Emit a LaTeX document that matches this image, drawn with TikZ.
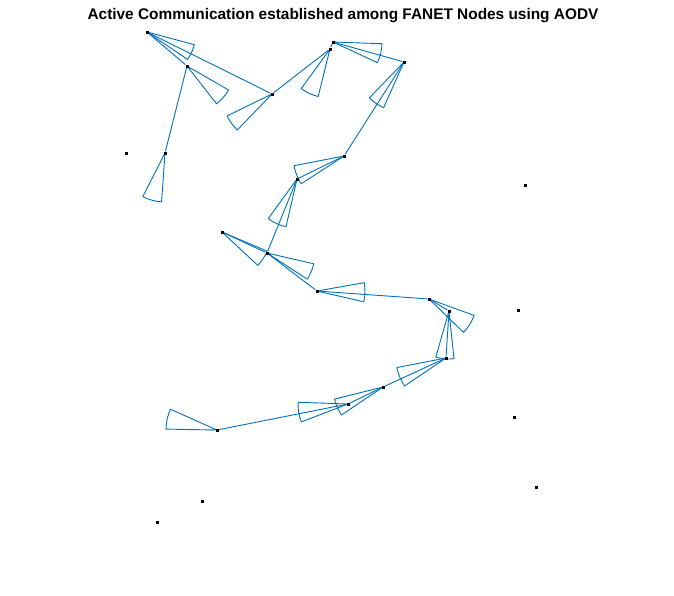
\documentclass[tikz,border=0pt]{standalone}
\usepackage{fontspec}
\setmainfont{Liberation Sans}
\usepackage{tikz}
\usetikzlibrary{backgrounds}
\usepackage{xcolor}
\definecolor{linkblue}{RGB}{0,114,189}

\begin{document}
\begin{tikzpicture}[
    x=1pt, y=-1pt,
    uav/.style={fill=black, inner sep=0pt, minimum size=3pt, rectangle},
    link/.style={draw=linkblue, line width=0.9pt},
    beam/.style={draw=linkblue, line width=0.9pt, line join=round},
    heading/.style={font=\fontsize{15.4}{17}\selectfont\bfseries}
  ]
    \useasboundingbox (0,0) rectangle (674,595);
    \node[heading] (title) at (343,16) {Active Communication established among FANET Nodes using AODV};

    % nodes on the route
    \node[uav] (u1) at (147,32) {};
    \node[uav] (u2) at (187,66) {};
    \node[uav] (u3) at (272,94) {};
    \node[uav] (u4) at (330,49) {};
    \node[uav] (u5) at (333,42) {};
    \node[uav] (u6) at (404,62) {};
    \node[uav] (u7) at (344,156) {};
    \node[uav] (u8) at (297,179) {};
    \node[uav] (u9) at (222,232) {};
    \node[uav] (u10) at (267,253) {};
    \node[uav] (u11) at (317,291) {};
    \node[uav] (u12) at (429,299) {};
    \node[uav] (u13) at (449,311) {};
    \node[uav] (u14) at (446,358) {};
    \node[uav] (u15) at (383,387) {};
    \node[uav] (u16) at (348,404) {};
    \node[uav] (u17) at (217,430) {};
    \node[uav] (u18) at (165,153) {};

    % idle nodes
    \node[uav] (i1) at (126,153) {};
    \node[uav] (i2) at (525,185) {};
    \node[uav] (i3) at (518,310) {};
    \node[uav] (i4) at (514,417) {};
    \node[uav] (i5) at (536,487) {};
    \node[uav] (i6) at (202,501) {};
    \node[uav] (i7) at (157,522) {};

    \begin{scope}[on background layer]
    % links
    \draw[link] (u1) -- (u3);
    \draw[link] (u1) -- (u2);
    \draw[link] (u2) -- (u18);
    \draw[link] (u3) -- (u4);
    \draw[link] (u4) -- (u5);
    \draw[link] (u5) -- (u6);
    \draw[link] (u6) -- (u7);
    \draw[link] (u7) -- (u8);
    \draw[link] (u8) -- (u10);
    \draw[link] (u9) -- (u10);
    \draw[link] (u10) -- (u11);
    \draw[link] (u11) -- (u12);
    \draw[link] (u12) -- (u13);
    \draw[link] (u13) -- (u14);
    \draw[link] (u14) -- (u15);
    \draw[link] (u15) -- (u16);
    \draw[link] (u16) -- (u17);

    % antenna beams
    \draw[beam] (u1.center) -- ++(15:49) arc[start angle=15, end angle=34, radius=49] -- cycle;
    \draw[beam] (u2.center) -- ++(30:48) arc[start angle=30, end angle=52, radius=48] -- cycle;
    \draw[beam] (u3.center) -- ++(134:50) arc[start angle=134, end angle=154, radius=50] -- cycle;
    \draw[beam] (u4.center) -- ++(104:49) arc[start angle=104, end angle=126, radius=49] -- cycle;
    \draw[beam] (u5.center) -- ++(2:49) arc[start angle=2, end angle=25, radius=49] -- cycle;
    \draw[beam] (u6.center) -- ++(114:50) arc[start angle=114, end angle=134, radius=50] -- cycle;
    \draw[beam] (u7.center) -- ++(147:51) arc[start angle=147, end angle=169, radius=51] -- cycle;
    \draw[beam] (u8.center) -- ++(103:49) arc[start angle=103, end angle=126, radius=49] -- cycle;
    \draw[beam] (u9.center) -- ++(23:49) arc[start angle=23, end angle=43, radius=49] -- cycle;
    \draw[beam] (u10.center) -- ++(13:48) arc[start angle=13, end angle=33, radius=48] -- cycle;
    \draw[beam] (u11.center) -- ++(-10:48) arc[start angle=-10, end angle=13, radius=48] -- cycle;
    \draw[beam] (u12.center) -- ++(20:48) arc[start angle=20, end angle=44, radius=48] -- cycle;
    \draw[beam] (u13.center) -- ++(84:48) arc[start angle=84, end angle=106, radius=48] -- cycle;
    \draw[beam] (u14.center) -- ++(146:50) arc[start angle=146, end angle=169, radius=50] -- cycle;
    \draw[beam] (u15.center) -- ++(146:50) arc[start angle=146, end angle=166, radius=50] -- cycle;
    \draw[beam] (u16.center) -- ++(159:50) arc[start angle=159, end angle=182, radius=50] -- cycle;
    \draw[beam] (u17.center) -- ++(181:51) arc[start angle=181, end angle=204, radius=51] -- cycle;
    \draw[beam] (u18.center) -- ++(94:49) arc[start angle=94, end angle=117, radius=49] -- cycle;
    \end{scope}
  \end{tikzpicture}
\end{document}
